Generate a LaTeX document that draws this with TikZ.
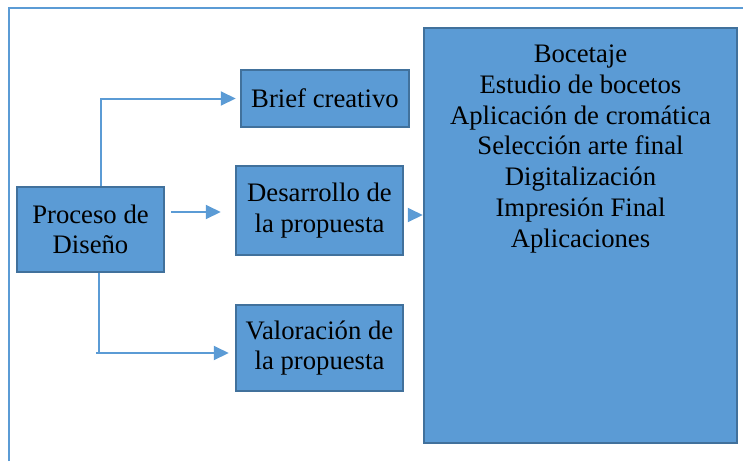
\documentclass[tikz,border=0pt]{standalone}
\usepackage{fontspec}
\setmainfont{Liberation Serif}
\usetikzlibrary{arrows.meta}
\definecolor{fillblue}{HTML}{5B9BD5}
\definecolor{edgeblue}{HTML}{41719C}
\begin{document}
\begin{tikzpicture}[x=1pt,y=-1pt,
  box/.style={draw=edgeblue,fill=fillblue,line width=2.5pt,inner sep=0pt,align=center,
    font=\fontsize{26.7}{30.7}\selectfont},
  conn/.style={draw=fillblue,line width=2pt},
  arr/.style={conn,-{Triangle[length=15pt,width=14pt]}},
  lbl/.style={inner sep=0pt,align=center,font=\fontsize{26.7}{30.7}\selectfont}]
\useasboundingbox (0,0) rectangle (743,461);
% frame
\draw[fillblue,line width=2pt] (9,461) -- (9,8) -- (743,8);
% boxes
\node[box,minimum width=147pt,minimum height=85pt] (proc) at (90.5,229.5) {Proceso de\\ Diseño};
\node[box,minimum width=168pt,minimum height=57pt] (brief) at (325,98.5) {Brief creativo};
\node[box,minimum width=167pt,minimum height=89pt] (des) at (319.5,210.5) {Desarrollo de\\la propuesta};
\node[box,minimum width=167pt,minimum height=86pt] (val) at (319.5,348) {Valoración de\\la propuesta};
\node[box,minimum width=313pt,minimum height=415pt] (big) at (580.5,235.5) {};
\node[lbl,anchor=north] (list) at (580.5,45) {Bocetaje\\Estudio de bocetos\\Aplicación de cromática\\Selección arte final\\Digitalización\\Impresión Final\\Aplicaciones};
% helper coordinates
\coordinate (vA) at (101,0);
\coordinate (hM) at (0,212);
\coordinate (vC) at (99,0);
\coordinate (hC) at (0,353);
\coordinate (hC0) at (96,353);
\coordinate (hD) at (0,215);
% connectors
\draw[arr,shorten >=4pt] (proc.north -| vA) |- (brief.west);
\draw[arr] ([xshift=6pt]proc.east |- hM) -- ([xshift=-14pt]des.west |- hM);
\draw[conn] (proc.south -| vC) -- (vC |- hC);
\draw[arr] (hC0) -- ([xshift=-6pt]val.west |- hC);
\draw[arr] ([xshift=5pt]des.east |- hD) -- (big.west |- hD);
\end{tikzpicture}
\end{document}
